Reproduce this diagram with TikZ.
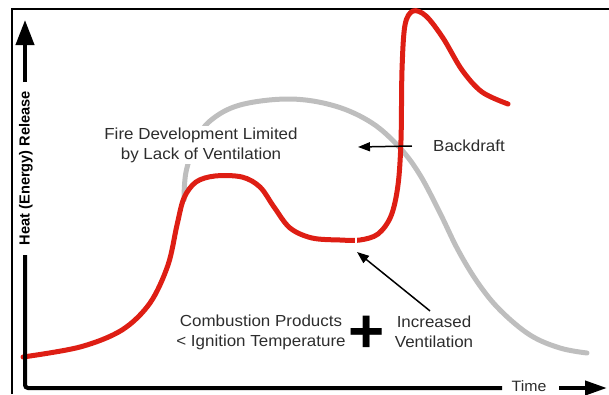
\documentclass[tikz,border=0pt]{standalone}
\usepackage{fontspec}
\setmainfont{Liberation Sans}
\newfontfamily\notefont[FakeStretch=1.06]{Liberation Sans}
\newfontfamily\axisfont{Liberation Sans}
\usetikzlibrary{arrows.meta}
\definecolor{firered}{RGB}{222,30,20}
\definecolor{o2gray}{RGB}{190,190,190}
\definecolor{inkgray}{RGB}{45,45,45}

\begin{document}
\begin{tikzpicture}[
  x=1pt, y=-1pt,
  note/.style={font=\notefont\fontsize{16}{20}\selectfont, text=inkgray, align=center, inner sep=1pt},
  axis/.style={line width=4pt, black},
  pointer/.style={-{Triangle[length=12pt,width=9pt]}, line width=1.5pt, black},
  curve/.style={line width=5pt, line cap=round}
]
  \useasboundingbox (0,0) rectangle (609,394);
  \draw[line width=1.8pt] (12,394) -- (12,9) -- (609,9);

  \draw[curve, o2gray] plot[smooth, tension=0.6] coordinates {
    (184,200) (186,172) (196,142) (210,121) (240,105) (290,99) (335,106)
    (372,123) (400,148) (420,175) (440,213) (458,250) (478,283) (500,310)
    (530,335) (560,348) (587,353)};

  \node[note, fill=white, inner sep=2pt] (limited) at (201,145)
        {Fire Development Limited\\by Lack of Ventilation};

  \draw[curve, firered] plot[smooth, tension=0.55] coordinates {
    (23,357) (80,347) (122,330) (150,303) (168,265) (177,225) (184,198)
    (196,182) (215,176) (242,177) (260,187) (274,207) (290,228) (312,238)
    (340,240) (360,240) (378,234) (391,216) (398,185) (401,140) (402,70)
    (405,25) (413,11) (426,16) (443,38) (462,70) (482,92) (508,104)};
  \draw[white, line width=1.6pt] (356,233) -- (356,247);

  \node[font=\axisfont\bfseries\fontsize{14.6}{16}\selectfont, rotate=90, inner sep=0pt]
        (heat) at (26,168) {Heat (Energy) Release};
  \node[font=\notefont\fontsize{15}{17}\selectfont, text=inkgray, inner sep=0pt]
        (time) at (529,386) {Time};
  \coordinate (ytip) at (25,20);
  \coordinate (ytop) at (25,82);
  \coordinate (ybot) at (25,255);
  \coordinate (origin) at (25,388);
  \coordinate (xend) at (502,388);
  \coordinate (xstart) at (559,388);
  \coordinate (xtip) at (607,388);
  \draw[axis, -{Triangle[length=25pt,width=18pt]}] (ytop) -- (ytip);
  \draw[axis, rounded corners=3pt] (ybot) -- (origin) -- (xend);
  \draw[axis, -{Triangle[length=22pt,width=14pt]}] (xstart) -- (xtip);

  \node[note] (backdraft) at (469,146) {Backdraft};
  \coordinate (bdtip) at (358,147);
  \draw[pointer] ([xshift=-20pt]backdraft.west) -- (bdtip);

  \node[note] (products) at (261,332) {Combustion Products\\< Ignition Temperature};
  \node[font=\bfseries\fontsize{62}{62}\selectfont, inner sep=0pt] (plus) at (367,334) {+};
  \node[note] (vent) at (434,332) {Increased\\Ventilation};
  \coordinate (venttip) at (357,252);
  \draw[pointer] ([xshift=-4pt,yshift=4pt]vent.north) -- (venttip);
\end{tikzpicture}
\end{document}
